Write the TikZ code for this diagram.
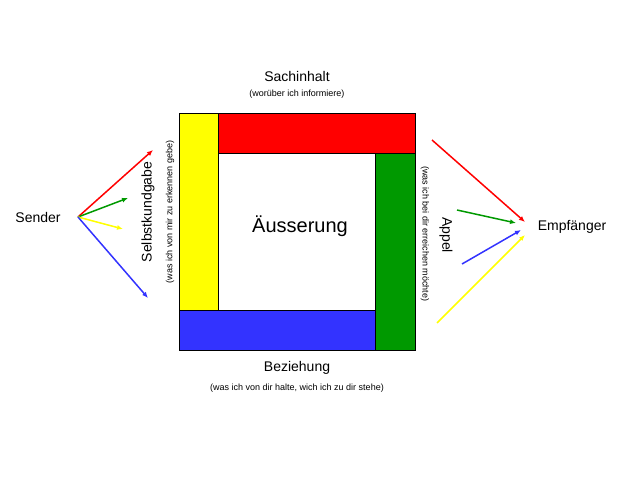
\documentclass[tikz,border=0pt]{standalone}
\usepackage{fontspec}
\setmainfont{Liberation Sans}
\usetikzlibrary{arrows.meta,positioning}
\definecolor{myred}{RGB}{255,0,0}
\definecolor{mygreen}{RGB}{0,153,0}
\definecolor{myblue}{RGB}{51,51,255}
\definecolor{myyellow}{RGB}{255,255,0}
\tikzset{
  side/.style={draw=black,line width=0.6pt},
  title/.style={font=\fontsize{14}{16}\selectfont},
  note/.style={font=\fontsize{9}{11}\selectfont},
  msg/.style={line width=1.5pt,-{Latex[length=6pt,width=5pt]}},
}
\begin{document}
\begin{tikzpicture}[x=1pt,y=-1pt]
  \useasboundingbox (0,0) rectangle (640,479);
  % die vier Seiten
  \fill[myred,side] (218,113) rectangle (415,153);
  \fill[mygreen,side] (375,153) rectangle (415,350);
  \fill[myblue,side] (179,310) rectangle (375,350);
  \fill[myyellow,side] (179,113) rectangle (218,310);
  \draw[side] (179,113) rectangle (415,350);

  \node (mitte) at (300,226) {\fontsize{20}{24}\selectfont Äusserung};
  \node[title] (sach) at (297,76) {Sachinhalt};
  \node[note] (sachx) [below=2pt of sach] {(worüber ich informiere)};
  \node[title] (bez) at (297,368) {Beziehung};
  \node[note] (bezx) [below=2pt of bez] {(was ich von dir halte, wich ich zu dir stehe)};
  \node[title,rotate=90] (selbst) at (148,212) {Selbstkundgabe};
  \node[note,rotate=90] (selbstx) at (170,212) {(was ich von mir zu erkennen gebe)};
  \node[title,rotate=-90] (appel) at (446,235) {Appel};
  \node[note,rotate=-90] (appelx) at (425,234) {(was ich bei dir erreichen möchte)};

  \node[title] (sender) at (38,217) {Sender};
  \node[title] (empf) at (572,227) {Empfänger};

  \coordinate (s) at (78,217);
  \draw[msg,myred] (s) -- (153,150);
  \draw[msg,mygreen] (s) -- (128,198);
  \draw[msg,myyellow] (s) -- (123,229);
  \draw[msg,myblue] (s) -- (148,298);

  \coordinate (e1) at (432,140);
  \coordinate (e2) at (457,210);
  \coordinate (e3) at (462,264);
  \coordinate (e4) at (437,323);
  \draw[msg,myred] (e1) -- (525,222);
  \draw[msg,mygreen] (e2) -- (516,223);
  \draw[msg,myblue] (e3) -- (521,230);
  \draw[msg,myyellow] (e4) -- (525,235);
\end{tikzpicture}
\end{document}
